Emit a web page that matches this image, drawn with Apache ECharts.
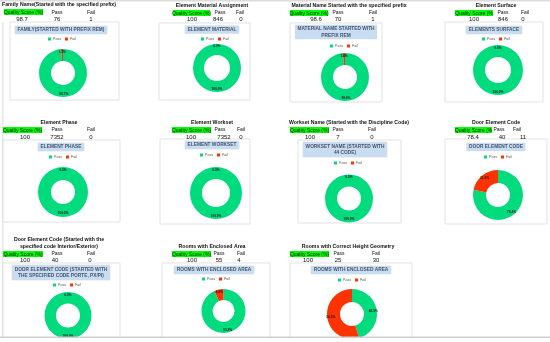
<!DOCTYPE html>
<html>
<head>
<meta charset="utf-8">
<script src="https://cdn.jsdelivr.net/npm/echarts@6/dist/echarts.min.js"></script>
<style>
html,body{margin:0;padding:0;background:#fff;}
#c{width:550px;height:342px;}
</style>
</head>
<body>
<div id="c"></div>
<script>
// ---- DATA ----
const headers = [
  'Family Name(Started with the specified prefix)',
  'Element Material Assignment',
  'Material Name Started with the specified prefix',
  'Element Surface',
  'Element Phase',
  'Element Workset',
  'Workset Name (Started with the Discipline Code)',
  'Door Element Code',
  'Door Element Code (Started with the\nspecified code Interior/Exterior)',
  'Rooms with Enclosed Area',
  'Rooms with Correct Height Geometry'
];
const chartTitles = [
  'FAMILY(STARTED WITH PREFIX REM)',
  'ELEMENT MATERIAL',
  'MATERIAL NAME STARTED WITH\nPREFIX REM',
  'ELEMENTS SURFACE',
  'ELEMENT PHASE',
  'ELEMENT WORKSET',
  'WORKSET NAME (STARTED WITH\n44 CODE)',
  'DOOR ELEMENT CODE',
  'DOOR ELEMENT CODE (STARTED WITH\nTHE SPECIFIED CODE PORTE, PX/PI)',
  'ROOMS WITH ENCLOSED AREA',
  'ROOMS WITH ENCLOSED AREA'
];
const qsLabels = [
  'Quality Score (%)','Quality Score (%)','Quality Score (%)','Quality Score (%',
  'Quality Score (%)','Quality Score (%)','Quality Score (%)','Quality Score (%',
  'Quality Score (%)','Quality Score (%)','Quality Score (%)'
];
const scores = ['98.7','100','98.6','100','100','100','100','78.4','100','100','100'];
const passCounts = [76, 846, 70, 846, 7352, 7352, 7, 40, 40, 55, 25];
const failCounts = [1, 0, 1, 0, 0, 0, 0, 11, 0, 4, 30];
const seriesNames = ['Pass', 'Fail'];
const colHeads = ['Pass', 'Fail'];

// ---- LAYOUT (positions only) ----
const L = [
  {hdr:[59,5],   qs:[4,9,39],    lbl:[57,91],   ly:12.5, val:[22,57,91],    vy:19.5, box:[10,22,109,78],  ttl:[61,30],    leg:[61,39],  pie:[63,73,12,24]},
  {hdr:[212,6],  qs:[173,10,37], lbl:[220,240], ly:12.5, val:[192,218,241], vy:19.5, box:[159,23,91,77],  ttl:[212,29.5], leg:[214,39], pie:[217,68,13,24]},
  {hdr:[349,6],  qs:[290,10,38], lbl:[338,373], ly:12.5, val:[316,338,373], vy:19.5, box:[290,23,92,79],  ttl:[336,32],   leg:[343,46], pie:[345,77,12,24]},
  {hdr:[496,6],  qs:[455,10,38], lbl:[503,525], ly:12.5, val:[474,503,523], vy:19.5, box:[445,22,98,80],  ttl:[494,30],   leg:[495,39], pie:[498,70,13,25]},
  {hdr:[59,123], qs:[3,127,39],  lbl:[57,91],   ly:130,  val:[25,57,91],    vy:137,  box:[3,140,117,82],  ttl:[61,147],   leg:[62,157], pie:[63,192,12,25]},
  {hdr:[212,123],qs:[172,127,39],lbl:[220,241], ly:130,  val:[191,224,241], vy:137,  box:[160,139,90,85], ttl:[212,145],  leg:[213,155],pie:[216,193,14,26]},
  {hdr:[349,123],qs:[290,127,39],lbl:[338,372], ly:130,  val:[310,338,372], vy:137,  box:[298,140,103,83],ttl:[345,149.5],leg:[347,163],pie:[349,198.5,12,24]},
  {hdr:[496,123],qs:[455,127,37],lbl:[499,517], ly:130,  val:[473,502,523], vy:137,  box:[445,139,102,85],ttl:[496,147],  leg:[497,157],pie:[498,195,12,25]},
  {hdr:[59,243.5],qs:[3,251,40], lbl:[57,91],   ly:253.5,val:[25,55,90],    vy:260,  box:[3,263,117,80],  ttl:[61,272.5], leg:[66,285], pie:[68,315.5,12,23.5]},
  {hdr:[212,247],qs:[172,251,39],lbl:[219,241], ly:253.5,val:[192,219,239], vy:260,  box:[162,263,108,80],ttl:[214,270],  leg:[215,279],pie:[223.5,311,11,22]},
  {hdr:[348,247],qs:[290,251,39],lbl:[339,376], ly:253.5,val:[308,338,376], vy:260,  box:[290,263,122,80],ttl:[351,270],  leg:[351,280],pie:[352,314,12,25]}
];

const FONT = 'Liberation Sans, Arial, sans-serif';
const GREEN = '#00DB7E', RED = '#FF3300';

const graphics = [];
const legends = [];
const series = [];

// background lines
graphics.push({type:'rect', shape:{x:0,y:0,width:550,height:1.5}, style:{fill:'#dcdcdc'}, z:1});
graphics.push({type:'rect', shape:{x:2.5,y:22,width:0.8,height:315}, style:{fill:'#d0d0d0'}, z:1});

L.forEach((p, i) => {
  // chart frame
  graphics.push({type:'rect', shape:{x:p.box[0], y:p.box[1], width:p.box[2], height:p.box[3]},
    style:{fill:'#fff', stroke:'#e3e3e3', lineWidth:0.8, shadowBlur:2, shadowColor:'rgba(0,0,0,0.06)'}, z:1});
  // header
  graphics.push({type:'text', z:5, style:{text:headers[i], x:p.hdr[0], y:p.hdr[1], align:'center', verticalAlign:'middle',
    font:'bold 5.2px ' + FONT, fill:'#111', lineHeight:7}});
  // quality score box
  graphics.push({type:'rect', z:5, shape:{x:p.qs[0], y:p.qs[1], width:p.qs[2], height:6}, style:{fill:'#00FF00'}});
  graphics.push({type:'text', z:6, style:{text:qsLabels[i], x:p.qs[0] + p.qs[2]/2, y:p.qs[1] + 3.2, align:'center', verticalAlign:'middle',
    font:'5px ' + FONT, fill:'#111'}});
  colHeads.forEach((h, k) => {
    graphics.push({type:'text', z:5, style:{text:h, x:p.lbl[k], y:p.ly, align:'center', verticalAlign:'middle',
      font:'5px ' + FONT, fill:'#111'}});
  });
  const vals = [scores[i], String(passCounts[i]), String(failCounts[i])];
  vals.forEach((v, k) => {
    graphics.push({type:'text', z:5, style:{text:v, x:p.val[k], y:p.vy, align:'center', verticalAlign:'middle',
      font:'6px ' + FONT, fill:'#111'}});
  });
  // chart title
  graphics.push({type:'text', z:5, style:{text:chartTitles[i], x:p.ttl[0], y:p.ttl[1], align:'center', verticalAlign:'middle',
    font:'bold 4.8px ' + FONT, fill:'#44546A', lineHeight:6.5, backgroundColor:'#C9DDF2', padding:[1,2.5,0.5,2.5],
    shadowBlur:1.5, shadowColor:'rgba(0,0,0,0.2)'}});
  // legend
  legends.push({data: seriesNames, left: p.leg[0] - 13, top: p.leg[1] - 2, itemWidth: 3, itemHeight: 3, itemGap: 4,
    icon: 'rect', padding: 0, selectedMode: false,
    textStyle: {fontSize: 3.6, color: '#555', fontFamily: FONT, padding: [0,0,0,-3]}});
  // pie
  series.push({
    type: 'pie', center: [p.pie[0], p.pie[1]], radius: [p.pie[2], p.pie[3]],
    startAngle: 90, clockwise: true, percentPrecision: 4, silent: true,
    itemStyle: {borderWidth: 0},
    label: {show: true, position: 'inside', fontSize: 3.2, fontWeight: 'bold', color: '#1a1a1a', fontFamily: FONT,
      formatter: prm => prm.percent.toFixed(1) + '%'},
    labelLine: {show: false},
    emphasis: {disabled: true},
    data: [
      {name: seriesNames[0], value: passCounts[i], itemStyle: {color: GREEN}},
      {name: seriesNames[1], value: failCounts[i], itemStyle: {color: RED}}
    ]
  });
});

// bottom edge
graphics.push({type:'rect', z:100, shape:{x:0,y:337,width:550,height:5}, style:{fill:'#fff'}});
graphics.push({type:'rect', z:101, shape:{x:0,y:336.5,width:550,height:1.5}, style:{fill:'#cfcfcf'}});

const chart = echarts.init(document.getElementById('c'), null, {renderer:'canvas'});
chart.setOption({
  animation: false,
  color: [GREEN, RED],
  legend: legends,
  series: series,
  graphic: {elements: graphics}
});
</script>
</body>
</html>
